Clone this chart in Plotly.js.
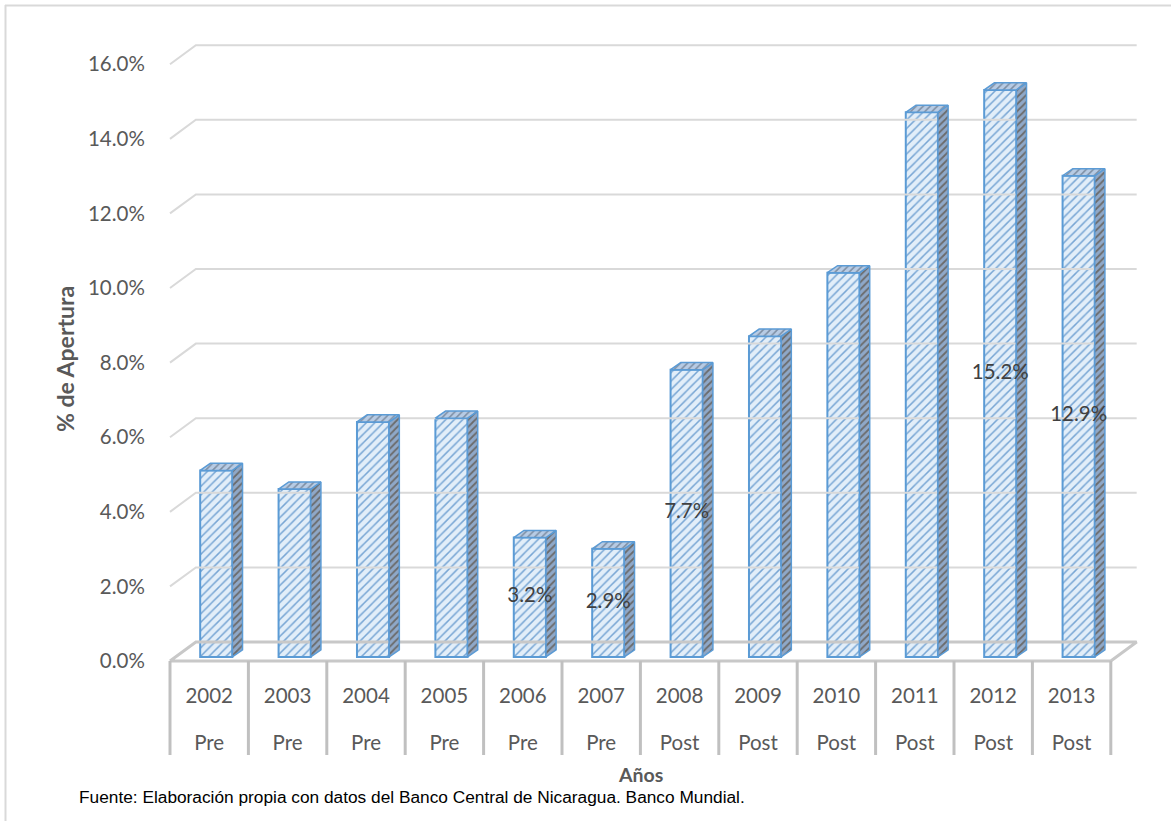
<!DOCTYPE html>
<html>
<head>
<meta charset="utf-8">
<script src="https://cdn.plot.ly/plotly-3.0.1.min.js"></script>
<style>html,body{margin:0;padding:0;background:#fff;}#chart{width:1171px;height:821px;}</style>
</head>
<body>
<div id="chart"></div>
<script>
// ---- data ----
const years = ['2002','2003','2004','2005','2006','2007','2008','2009','2010','2011','2012','2013'];
const periods = ['Pre','Pre','Pre','Pre','Pre','Pre','Post','Post','Post','Post','Post','Post'];
const apertura = [5.0, 4.5, 6.3, 6.4, 3.2, 2.9, 7.7, 8.6, 10.3, 14.6, 15.2, 12.9];
const showLabel = [false,false,false,false,true,true,true,false,false,false,true,true];
const yTicks = [0, 2, 4, 6, 8, 10, 12, 14, 16];

// ---- pseudo-3D geometry (axis units) ----
const FD_X = 0.33, FD_Y = 0.51;     // floor / back wall depth
const BD_X = 0.13, BD_Y = 0.19;     // bar depth
const BASE = 0.11;                  // bar base above front floor edge
const XS = 0.09;                    // bar shift to the right
const BW = 0.41;                    // bar width
const DIV_BOTTOM = -2.52;           // bottom of category dividers
const n = years.length;
const idx = years.map((_, i) => i);

// gridlines on the back wall
const gx = [], gy = [];
yTicks.forEach(v => {
  if (v === 0) return;
  gx.push(-0.5, -0.5 + FD_X, n - 0.5 + FD_X, null);
  gy.push(v, v + FD_Y, v + FD_Y, null);
});
// floor
const fx = [-0.5, -0.5 + FD_X, n - 0.5 + FD_X, n - 0.5, -0.5];
const fy = [0, FD_Y, FD_Y, 0, 0];
// category dividers
const dx = [], dy = [];
for (let k = 0; k <= n; k++) { dx.push(k - 0.5, k - 0.5, null); dy.push(0, DIV_BOTTOM, null); }

// top and side faces
const tx = [], ty = [], sx = [], sy = [];
apertura.forEach((v, i) => {
  const x0 = i + XS - BW / 2, x1 = i + XS + BW / 2, top = BASE + v;
  tx.push(x0, x1, x1 + BD_X, x0 + BD_X, x0, null);
  ty.push(top, top, top + BD_Y, top + BD_Y, top, null);
  sx.push(x1, x1 + BD_X, x1 + BD_X, x1, x1, null);
  sy.push(BASE, BASE + BD_Y, top + BD_Y, top, BASE, null);
});

const lbl = idx.filter(i => showLabel[i]);

const blue = '#5b9bd5';
const traces = [
  {type:'scatter', mode:'lines', x:gx, y:gy, line:{color:'#d9d9d9', width:2}, hoverinfo:'skip', showlegend:false},
  {type:'scatter', mode:'lines', x:fx, y:fy, line:{color:'#c8c8c8', width:3}, hoverinfo:'skip', showlegend:false},
  {type:'scatter', mode:'lines', x:dx, y:dy, line:{color:'#c0c0c0', width:3}, hoverinfo:'skip', showlegend:false},
  {type:'scatter', mode:'lines', x:sx, y:sy, fill:'toself', fillcolor:'#8faacc',
   fillpattern:{shape:'/', bgcolor:'#8fa8c8', fgcolor:'#6b6b6b', size:5, solidity:0.35},
   line:{color:blue, width:1.5}, hoverinfo:'skip', showlegend:false},
  {type:'scatter', mode:'lines', x:tx, y:ty, fill:'toself', fillcolor:'#a9c1de',
   fillpattern:{shape:'/', bgcolor:'#b7cbe4', fgcolor:'#7d8ea3', size:5, solidity:0.3},
   line:{color:blue, width:1.5}, hoverinfo:'skip', showlegend:false},
  {type:'bar', x:idx.map(i => i + XS), y:apertura, base:BASE, width:BW,
   marker:{color:'#deebf7', line:{color:blue, width:2},
           pattern:{shape:'/', bgcolor:'#e2eef9', fgcolor:'#78a6d4', size:6, solidity:0.25}},
   hoverinfo:'skip', showlegend:false},
  {type:'scatter', mode:'text', x:lbl.map(i => i + XS), y:lbl.map(i => BASE + apertura[i] / 2),
   text:lbl.map(i => apertura[i].toFixed(1) + '%'), textposition:'middle center',
   textfont:{family:'Lato, sans-serif', size:20.5, color:'#404040'}, hoverinfo:'skip', showlegend:false},
  {type:'scatter', mode:'markers', x:[0], y:[null], xaxis:'x2', hoverinfo:'skip', showlegend:false}
];

const L = 168, R = 1145, T = 27, B = 758;
const W = R - L, H = B - T;
const px = p => (p - L) / W, py = p => (B - p) / H;

const layout = {
  width:1171, height:821,
  margin:{l:L, r:1171 - R, t:T, b:821 - B, pad:0},
  paper_bgcolor:'#ffffff', plot_bgcolor:'rgba(0,0,0,0)',
  font:{family:'Lato, sans-serif', color:'#595959'},
  xaxis:{range:[-0.5 - 2 / 78.4, -0.5 - 2 / 78.4 + W / 78.4], tickvals:idx, ticktext:years,
         showgrid:false, zeroline:false, showline:false, ticks:'', anchor:'free', position:py(681),
         tickfont:{size:20.5, color:'#595959'}},
  xaxis2:{overlaying:'x', matches:'x', tickvals:idx, ticktext:periods,
          showgrid:false, zeroline:false, showline:false, ticks:'', anchor:'free', position:py(728),
          tickfont:{size:20.5, color:'#595959'}},
  yaxis:{range:[DIV_BOTTOM - 0.08, DIV_BOTTOM - 0.08 + H / 37.3], tickvals:yTicks,
         ticktext:yTicks.map(v => v.toFixed(1) + '%'),
         showgrid:false, zeroline:false, showline:false, ticks:'outside', ticklen:18,
         tickcolor:'rgba(0,0,0,0)', tickfont:{size:20.5, color:'#595959'}},
  shapes:[
    {type:'line', xref:'paper', yref:'paper', x0:px(5), x1:px(1171), y0:py(5.5), y1:py(5.5), line:{color:'#d9d9d9', width:2}},
    {type:'line', xref:'paper', yref:'paper', x0:px(5.5), x1:px(5.5), y0:py(5), y1:py(821), line:{color:'#d9d9d9', width:2}}
  ],
  annotations:[
    {xref:'paper', yref:'paper', x:px(65), y:py(359), xanchor:'center', yanchor:'middle', showarrow:false,
     textangle:-90, text:'<b>% de Apertura</b>', font:{family:'Lato, sans-serif', size:23, color:'#595959'}},
    {xref:'paper', yref:'paper', x:px(640), y:py(774), xanchor:'center', yanchor:'middle', showarrow:false,
     text:'<b>Años</b>', font:{family:'Lato, sans-serif', size:19.5, color:'#595959'}},
    {xref:'paper', yref:'paper', x:px(77), y:py(797), xanchor:'left', yanchor:'middle', showarrow:false,
     text:'Fuente: Elaboración propia con datos del Banco Central de Nicaragua. Banco Mundial.',
     font:{family:'Liberation Sans, Arial, sans-serif', size:17.3, color:'#000000'}}
  ]
};

Plotly.newPlot('chart', traces, layout, {displayModeBar:false, staticPlot:true});
</script>
</body>
</html>
